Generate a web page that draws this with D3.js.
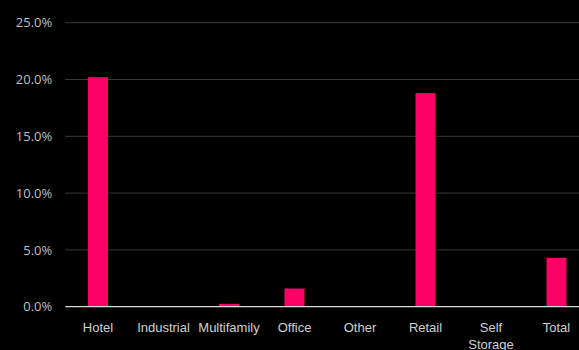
<!DOCTYPE html>
<html>
<head>
<meta charset="utf-8">
<script src="https://cdn.jsdelivr.net/npm/d3@7"></script>
<style>
  html, body { margin: 0; padding: 0; background: #000; overflow: hidden; }
  svg { display: block; }
</style>
</head>
<body>
<script>
// Share of loans by property type
const categories = ["Hotel", "Industrial", "Multifamily", "Office", "Other", "Retail", "Self Storage", "Total"];
const values = [20.2, 0.0, 0.25, 1.6, 0.0, 18.8, 0.0, 4.3];
const yTicks = [0, 5, 10, 15, 20, 25];

const width = 579, height = 350;
const margin = { top: 22.7, left: 65.25, bottom: 43.3 };
const plotRight = 589.25;

const svg = d3.select("body").append("svg")
  .attr("width", width)
  .attr("height", height)
  .style("background", "#000");

const x = d3.scaleBand()
  .domain(categories)
  .range([margin.left, plotRight])
  .paddingInner(0.695)
  .paddingOuter(0.3475);

const y = d3.scaleLinear()
  .domain([0, 25])
  .range([height - margin.bottom, margin.top]);

// Horizontal gridlines
svg.append("g")
  .selectAll("line")
  .data(yTicks.filter(d => d > 0))
  .join("line")
  .attr("x1", margin.left)
  .attr("x2", plotRight)
  .attr("y1", d => y(d))
  .attr("y2", d => y(d))
  .attr("stroke", "#3a3a3a")
  .attr("stroke-width", 1);

// Y axis labels
const yAxis = d3.axisLeft(y)
  .tickValues(yTicks)
  .tickFormat(d => d3.format(".1f")(d) + "%")
  .tickSize(0)
  .tickPadding(13);

svg.append("g")
  .attr("transform", `translate(${margin.left},0)`)
  .call(yAxis)
  .call(g => g.select(".domain").remove())
  .call(g => g.selectAll("text")
    .attr("fill", "#bfbfbf")
    .style("font-family", "'Open Sans', 'DejaVu Sans', sans-serif")
    .style("font-size", "13px"));

// Bars
svg.append("g")
  .selectAll("rect")
  .data(categories.map((c, i) => ({ c, v: values[i] })))
  .join("rect")
  .attr("x", d => x(d.c))
  .attr("width", x.bandwidth())
  .attr("y", d => y(d.v))
  .attr("height", d => y(0) - y(d.v))
  .attr("fill", "#ff0066");

// Baseline
svg.append("line")
  .attr("x1", margin.left)
  .attr("x2", plotRight)
  .attr("y1", y(0))
  .attr("y2", y(0))
  .attr("stroke", "#d9d9d9")
  .attr("stroke-width", 1.3);

// Category labels, wrapped onto two lines where needed
const xLabels = svg.append("g")
  .selectAll("text")
  .data(categories)
  .join("text")
  .attr("x", d => x(d) + x.bandwidth() / 2)
  .attr("y", y(0) + 25)
  .attr("text-anchor", "middle")
  .attr("fill", "#d0d0d0")
  .style("font-family", "'Liberation Sans Narrow', 'Liberation Sans', Arial, sans-serif")
  .style("font-size", "13px");

xLabels.each(function (d) {
  const words = d === "Self Storage" ? ["Self", "Storage"] : [d];
  d3.select(this).selectAll("tspan")
    .data(words)
    .join("tspan")
    .attr("x", x(d) + x.bandwidth() / 2)
    .attr("dy", (w, i) => i === 0 ? 0 : 17)
    .text(w => w);
});
</script>
</body>
</html>
